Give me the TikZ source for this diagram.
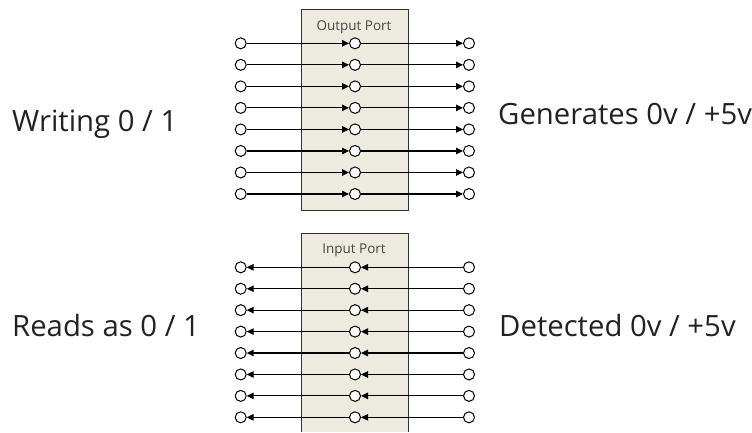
\documentclass[tikz,border=0pt]{standalone}
\usepackage{fontspec}
\setmainfont{Open Sans}
\usetikzlibrary{arrows.meta}
\definecolor{portfill}{HTML}{EDEAE0}
\definecolor{portedge}{HTML}{333333}
\definecolor{labelink}{HTML}{222222}
\tikzset{
  pin/.style={circle,draw=black,fill=white,line width=1pt,minimum size=11pt,inner sep=0pt},
  wire/.style={line width=1.2pt,-{Triangle[length=7pt,width=6.5pt]}},
  portbox/.style={fill=portfill,draw=portedge,line width=1pt},
  portlabel/.style={font=\fontsize{13.5}{16}\selectfont,text=portedge!90,anchor=base},
  biglabel/.style={font=\fontsize{29.3}{32}\selectfont,text=labelink,anchor=base west,inner sep=0pt}
}
\begin{document}
\begin{tikzpicture}[x=1pt,y=-1pt]
\useasboundingbox (0,0) rectangle (752,432);

% output port block
\path[portbox] (301.5,9) rectangle (408.5,210);
\node[portlabel] (outlbl) at (354,30) {Output Port};

% input port block, running off the lower edge
\fill[portfill] (301.5,233.3) rectangle (408.5,432);
\draw[portedge,line width=1pt] (301.5,432) -- (301.5,233.3) -- (408.5,233.3) -- (408.5,432);
\node[portlabel] (inlbl) at (354,253.3) {Input Port};

% eight output lines: source -> port -> pin
\foreach \i in {1,...,8}{
  \pgfmathsetmacro{\yy}{43.3+21.53*(\i-1)}
  \node[pin] (oa\i) at (240.7,\yy) {};
  \node[pin] (ob\i) at (355,\yy) {};
  \node[pin] (oc\i) at (469,\yy) {};
  \draw[wire] (oa\i) -- (ob\i);
  \draw[wire] (ob\i) -- (oc\i);
}

% eight input lines: pin -> port -> destination
\foreach \i in {1,...,8}{
  \pgfmathsetmacro{\yy}{267.3+21.43*(\i-1)}
  \node[pin] (ia\i) at (240.7,\yy) {};
  \node[pin] (ib\i) at (355,\yy) {};
  \node[pin] (ic\i) at (469,\yy) {};
  \draw[wire] (ic\i) -- (ib\i);
  \draw[wire] (ib\i) -- (ia\i);
}

% side captions
\node[biglabel] (wr) at (12,131.7) {Writing 0 / 1};
\node[biglabel] (gen) at (498,124.3) {Generates 0v / +5v};
\node[biglabel] (rd) at (12,336.7) {Reads as 0 / 1};
\node[biglabel] (det) at (499,336.7) {Detected 0v / +5v};
\end{tikzpicture}
\end{document}
